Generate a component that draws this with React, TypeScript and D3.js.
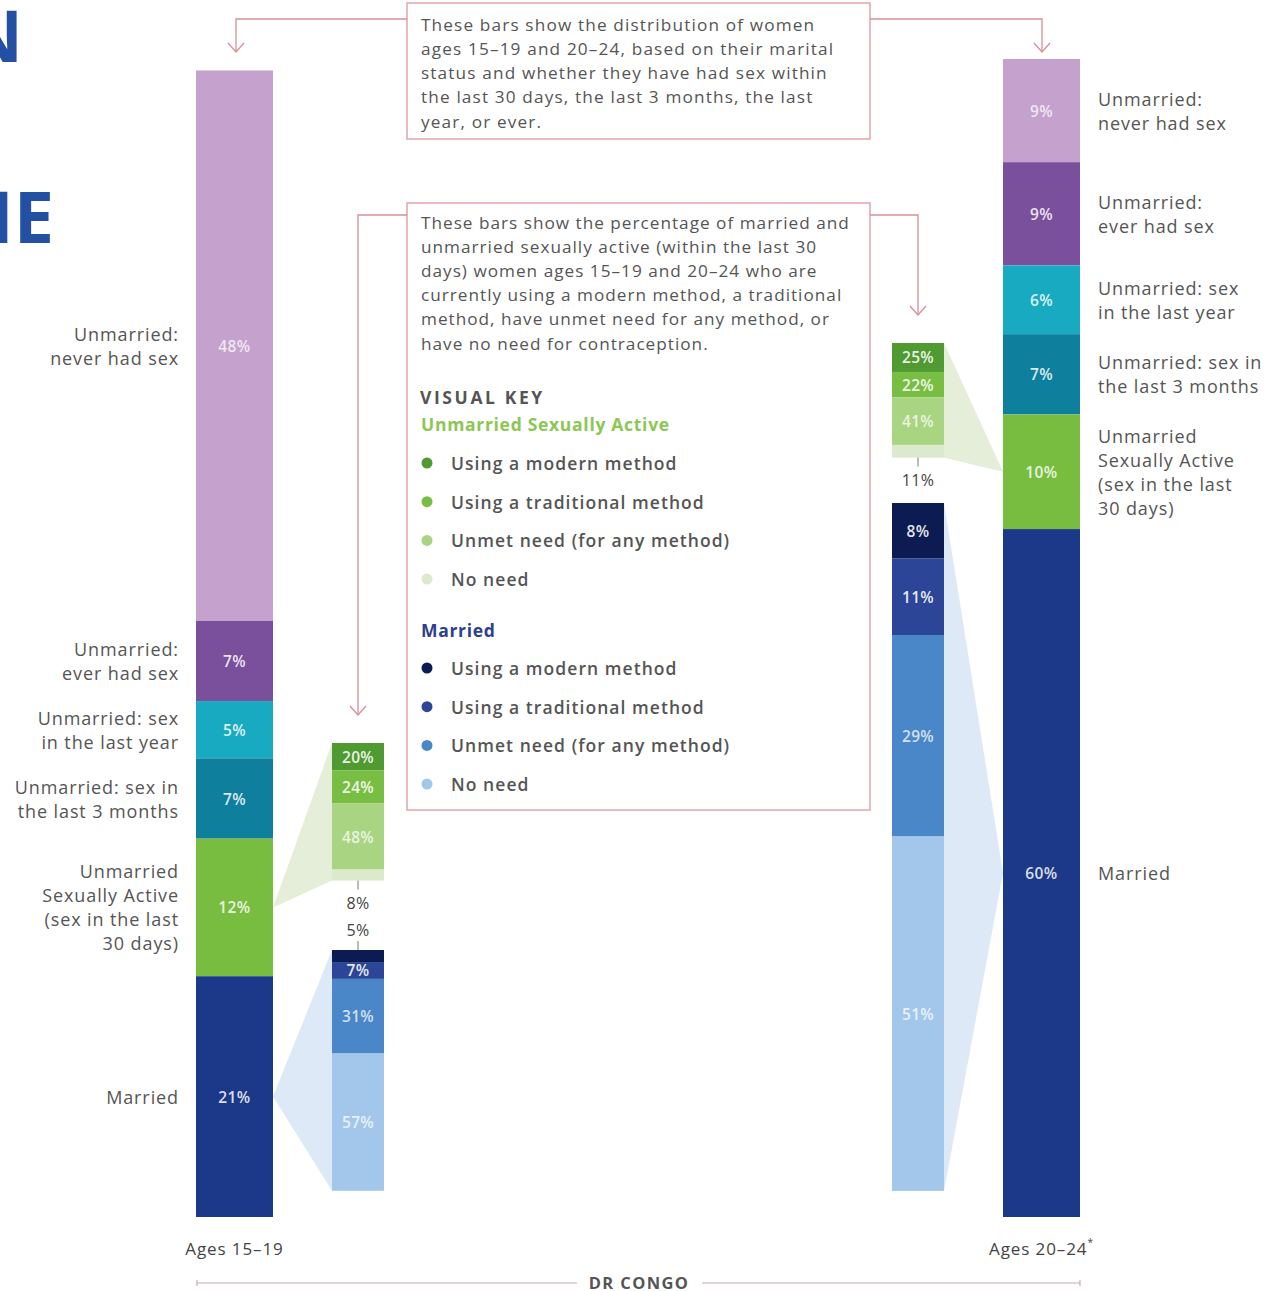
import React from "react";
import * as d3 from "d3";

// ---------- DATA ----------
const bigSegmentLabels = [
  ["Unmarried:", "never had sex"],
  ["Unmarried:", "ever had sex"],
  ["Unmarried: sex", "in the last year"],
  ["Unmarried: sex in", "the last 3 months"],
  ["Unmarried", "Sexually Active", "(sex in the last", "30 days)"],
  ["Married"],
];
const ages1519 = [48, 7, 5, 7, 12, 21];
const ages2024 = [9, 9, 6, 7, 10, 60];
const ageLabels = ["Ages 15\u201319", "Ages 20\u201324"];

const methodLabels = ["Using a modern method", "Using a traditional method", "Unmet need (for any method)", "No need"];
const sa1519 = [20, 24, 48, 8];
const married1519 = [5, 7, 31, 57];
const sa2024 = [25, 22, 41, 11];
const married2024 = [8, 11, 29, 51];

const box1Text = [
  "These bars show the distribution of women",
  "ages 15\u201319 and 20\u201324, based on their marital",
  "status and whether they have had sex within",
  "the last 30 days, the last 3 months, the last",
  "year, or ever.",
];
const box2Text = [
  "These bars show the percentage of married and",
  "unmarried sexually active (within the last 30",
  "days) women ages 15\u201319 and 20\u201324 who are",
  "currently using a modern method, a traditional",
  "method, have unmet need for any method, or",
  "have no need for contraception.",
];

// ---------- STYLE ----------
const FONT = "'Open Sans', sans-serif";
const bigColors = ["#c4a2cd", "#7a4f9c", "#17aac0", "#0e7f9d", "#78bd3f", "#1c3889"];
const saColors = ["#4f9a31", "#78be42", "#a9d582", "#dde9cc"];
const marriedColors = ["#0c1c52", "#2c4596", "#4a87c9", "#a2c7ea"];
const TEXT = "#555555";
const PINK = "#d98f98";

const W = 1278;
const H = 1291;
const BASE = 1217;
const hScale = d3.scaleLinear().domain([0, 101]).range([0, 1158]);

function stack(values: number[], top: number, height: number) {
  const sum = d3.sum(values);
  const s = d3.scaleLinear().domain([0, sum]).range([top, top + height]);
  let cum = 0;
  return values.map((v) => {
    const y0 = s(cum);
    cum += v;
    const y1 = s(cum);
    return { v, y0, y1 };
  });
}

function BigBar({ values, x, w, labelSide }: { values: number[]; x: number; w: number; labelSide: "left" | "right" }) {
  const total = d3.sum(values);
  const top = BASE - hScale(total);
  const segs = stack(values, top, hScale(total));
  return (
    <g>
      {segs.map((s, i) => (
        <g key={i}>
          <rect x={x} y={s.y0} width={w} height={s.y1 - s.y0} fill={bigColors[i]} />
          <text
            x={x + w / 2}
            y={(s.y0 + s.y1) / 2}
            textAnchor="middle"
            dominantBaseline="central"
            fill="#ffffff"
            fillOpacity={i === 0 ? 0.75 : 0.85}
            fontSize={15.5}
            fontWeight={600}
            letterSpacing={0.4}
            fontFamily={FONT}
          >
            {s.v}%
          </text>
          {bigSegmentLabels[i].map((line, j) => {
            const n = bigSegmentLabels[i].length;
            const cy = (s.y0 + s.y1) / 2 + (j - (n - 1) / 2) * 24;
            return (
              <text
                key={j}
                x={labelSide === "left" ? x - 17 : x + w + 18}
                y={cy}
                textAnchor={labelSide === "left" ? "end" : "start"}
                dominantBaseline="central"
                fill={TEXT}
                fontSize={18}
                fontWeight={500}
                letterSpacing={0.9}
                fontFamily={FONT}
              >
                {line}
              </text>
            );
          })}
        </g>
      ))}
    </g>
  );
}

function bigSegment(values: number[], idx: number) {
  const total = d3.sum(values);
  const top = BASE - hScale(total);
  const segs = stack(values, top, hScale(total));
  return segs[idx];
}

function SmallBar({ values, colors, x, w, top, height }: { values: number[]; colors: string[]; x: number; w: number; top: number; height: number }) {
  const segs = stack(values, top, height);
  return (
    <g>
      {segs.map((s, i) => {
        const h = s.y1 - s.y0;
        const inside = h >= 14;
        const isLast = i === values.length - 1;
        return (
          <g key={i}>
            <rect x={x} y={s.y0} width={w} height={h} fill={colors[i]} />
            {inside ? (
              <text
                x={x + w / 2}
                y={(s.y0 + s.y1) / 2}
                textAnchor="middle"
                dominantBaseline="central"
                fill="#ffffff"
                fillOpacity={i >= 2 ? 0.75 : 0.9}
                fontSize={15.5}
                fontWeight={600}
                letterSpacing={0.3}
                fontFamily={FONT}
              >
                {s.v}%
              </text>
            ) : isLast ? (
              <g>
                <line x1={x + w / 2} x2={x + w / 2} y1={s.y1} y2={s.y1 + 9} stroke="#777" strokeWidth={1} />
                <text x={x + w / 2} y={s.y1 + 22} textAnchor="middle" dominantBaseline="central" fill="#444" fontSize={16} fontWeight={500} letterSpacing={0.4} fontFamily={FONT}>
                  {s.v}%
                </text>
              </g>
            ) : (
              <g>
                <line x1={x + w / 2} x2={x + w / 2} y1={s.y0 - 9} y2={s.y0} stroke="#777" strokeWidth={1} />
                <text x={x + w / 2} y={s.y0 - 20} textAnchor="middle" dominantBaseline="central" fill="#444" fontSize={16} fontWeight={500} letterSpacing={0.4} fontFamily={FONT}>
                  {s.v}%
                </text>
              </g>
            )}
          </g>
        );
      })}
    </g>
  );
}

function Wedge({ fromX, fromY, toX, top, bottom, fill }: { fromX: number; fromY: number; toX: number; top: number; bottom: number; fill: string }) {
  const p = d3.path();
  p.moveTo(fromX, fromY);
  p.lineTo(toX, top);
  p.lineTo(toX, bottom);
  p.closePath();
  return <path d={p.toString()} fill={fill} />;
}

function Arrow({ points }: { points: [number, number][] }) {
  const line = d3.line();
  const [ex, ey] = points[points.length - 1];
  return (
    <g fill="none" stroke={PINK} strokeWidth={1.3}>
      <path d={line(points) || ""} />
      <path d={line([[ex - 8, ey - 9], [ex, ey], [ex + 8, ey - 9]]) || ""} />
    </g>
  );
}

export default function App() {
  const leftX = 196, bigW = 77;
  const rightX = 1003;
  const smallW = 52;
  const sL = 332, sR = 892;

  const lSA = bigSegment(ages1519, 4);
  const lM = bigSegment(ages1519, 5);
  const rSA = bigSegment(ages2024, 4);
  const rM = bigSegment(ages2024, 5);

  const lSATop = 743, lMTop = 950, rSATop = 343, rMTop = 503;

  const legendRow = (label: string, color: string, y: number, key: string) => (
    <g key={key}>
      <circle cx={427} cy={y} r={5.5} fill={color} />
      <text x={451} y={y} dominantBaseline="central" fill={TEXT} fontSize={17.5} fontWeight={600} letterSpacing={1.05} fontFamily={FONT}>
        {label}
      </text>
    </g>
  );

  return (
    <svg width={W} height={H} style={{ position: "absolute", left: 0, top: 0 }} fontFamily={FONT}>
      <rect width={W} height={H} fill="#ffffff" />

      {/* cropped title fragments */}
      <text x={23} y={62} textAnchor="end" fill="#2350a3" fontSize={72} fontWeight={700} fontFamily="'Open Sans', sans-serif">N</text>
      <text x={54} y={243} textAnchor="end" fill="#2350a3" fontSize={72} fontWeight={700} fontFamily="'Open Sans', sans-serif">NE</text>

      {/* wedges */}
      <Wedge fromX={leftX + bigW} fromY={(lSA.y0 + lSA.y1) / 2} toX={sL} top={lSATop} bottom={lSATop + (lSA.y1 - lSA.y0)} fill="#e4eed8" />
      <Wedge fromX={leftX + bigW} fromY={(lM.y0 + lM.y1) / 2} toX={sL} top={lMTop} bottom={lMTop + (lM.y1 - lM.y0)} fill="#dde9f6" />
      <Wedge fromX={rightX} fromY={(rSA.y0 + rSA.y1) / 2} toX={sR + smallW} top={rSATop} bottom={rSATop + (rSA.y1 - rSA.y0)} fill="#e4eed8" />
      <Wedge fromX={rightX} fromY={(rM.y0 + rM.y1) / 2} toX={sR + smallW} top={rMTop} bottom={rMTop + (rM.y1 - rM.y0)} fill="#dde9f6" />

      <BigBar values={ages1519} x={leftX} w={bigW} labelSide="left" />
      <BigBar values={ages2024} x={rightX} w={bigW} labelSide="right" />

      <SmallBar values={sa1519} colors={saColors} x={sL} w={smallW} top={lSATop} height={lSA.y1 - lSA.y0} />
      <SmallBar values={married1519} colors={marriedColors} x={sL} w={smallW} top={lMTop} height={lM.y1 - lM.y0} />
      <SmallBar values={sa2024} colors={saColors} x={sR} w={smallW} top={rSATop} height={rSA.y1 - rSA.y0} />
      <SmallBar values={married2024} colors={marriedColors} x={sR} w={smallW} top={rMTop} height={rM.y1 - rM.y0} />

      {/* arrows */}
      <Arrow points={[[407, 19], [236, 19], [236, 52]]} />
      <Arrow points={[[870, 19], [1042, 19], [1042, 52]]} />
      <Arrow points={[[407, 215], [358, 215], [358, 715]]} />
      <Arrow points={[[870, 215], [918, 215], [918, 315]]} />

      {/* box 1 */}
      <rect x={407} y={3} width={463} height={136} fill="#ffffff" stroke={PINK} strokeOpacity={0.8} strokeWidth={1.5} />
      {box1Text.map((t, i) => (
        <text key={i} x={421} y={24 + i * 24.3} dominantBaseline="central" fill={TEXT} fontSize={17.2} letterSpacing={1.15} fontFamily={FONT}>
          {t}
        </text>
      ))}

      {/* box 2 */}
      <rect x={407} y={203} width={463} height={607} fill="#ffffff" stroke={PINK} strokeOpacity={0.8} strokeWidth={1.5} />
      {box2Text.map((t, i) => (
        <text key={i} x={421} y={222 + i * 24.2} dominantBaseline="central" fill={TEXT} fontSize={17.2} letterSpacing={1.0} fontFamily={FONT}>
          {t}
        </text>
      ))}
      <text x={420} y={397} dominantBaseline="central" fill="#555" fontSize={17.5} fontWeight={700} letterSpacing={2.6} fontFamily={FONT}>VISUAL KEY</text>
      <text x={421} y={424} dominantBaseline="central" fill="#8cc653" fontSize={17.5} fontWeight={700} letterSpacing={0.7} fontFamily={FONT}>Unmarried Sexually Active</text>
      {methodLabels.map((m, i) => legendRow(m, saColors[i], 463 + i * 38.7, "sa" + i))}
      <text x={421} y={630} dominantBaseline="central" fill="#2c3f8f" fontSize={17.5} fontWeight={700} letterSpacing={0.7} fontFamily={FONT}>Married</text>
      {methodLabels.map((m, i) => legendRow(m, marriedColors[i], 668 + i * 38.7, "m" + i))}

      {/* axis labels */}
      <text x={leftX + bigW / 2} y={1248} textAnchor="middle" dominantBaseline="central" fill="#444" fontSize={17} fontWeight={500} letterSpacing={0.9} fontFamily={FONT}>
        {ageLabels[0]}
      </text>
      <text x={rightX + bigW / 2} y={1248} textAnchor="middle" dominantBaseline="central" fill="#444" fontSize={17} fontWeight={500} letterSpacing={0.9} fontFamily={FONT}>
        {ageLabels[1]}
        <tspan fontSize={10} dy={-6}>*</tspan>
      </text>

      <g stroke="#c9a9ab" strokeWidth={1.2}>
        <line x1={197} x2={577} y1={1283} y2={1283} />
        <line x1={702} x2={1080} y1={1283} y2={1283} />
        <line x1={197} x2={197} y1={1280} y2={1286} />
        <line x1={1080} x2={1080} y1={1280} y2={1286} />
      </g>
      <text x={639} y={1282} textAnchor="middle" dominantBaseline="central" fill="#555" fontSize={16.5} fontWeight={700} letterSpacing={1.4} fontFamily={FONT}>
        DR CONGO
      </text>
    </svg>
  );
}
